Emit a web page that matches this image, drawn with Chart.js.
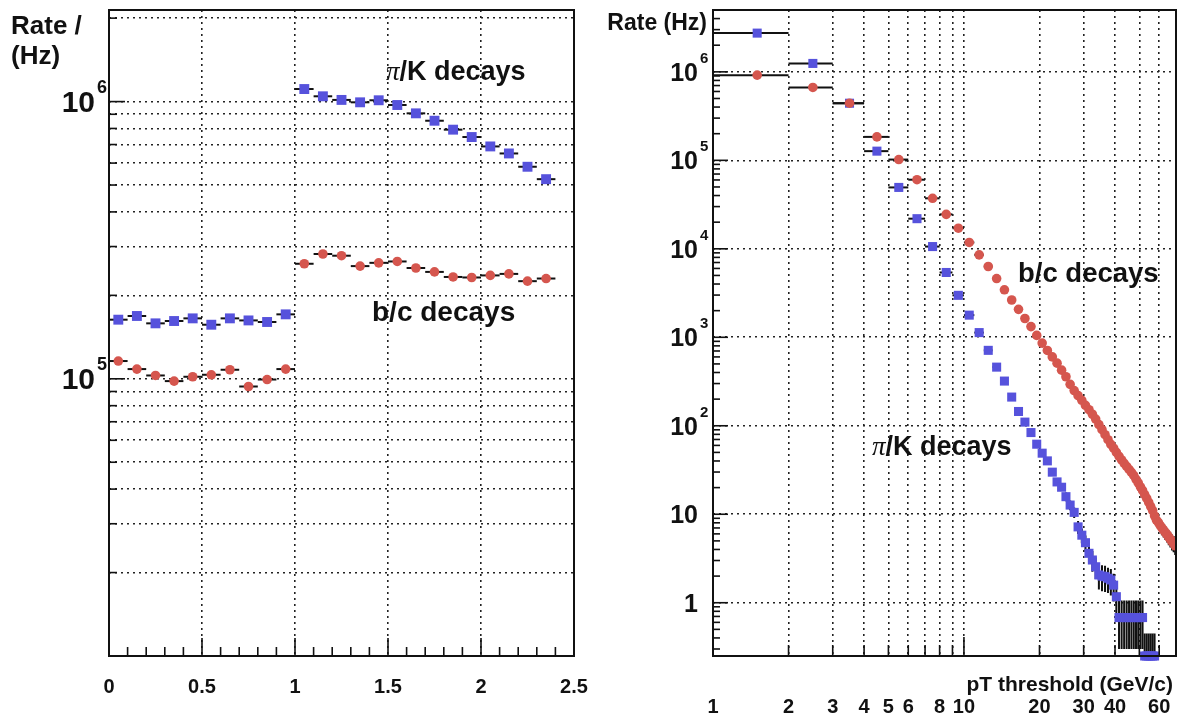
<!DOCTYPE html>
<html>
<head>
<meta charset="utf-8">
<title>Rate vs eta and pT threshold</title>
<script src="https://cdn.jsdelivr.net/npm/chart.js@4.4.1/dist/chart.umd.min.js"></script>
<style>
  html, body { margin: 0; padding: 0; background: #fff; }
  #wrap { position: relative; width: 1179px; height: 718px; overflow: hidden; }
  canvas { position: absolute; top: 0; }
  #etaChart { left: 0; }
  #ptChart { left: 590px; }
</style>
</head>
<body>
<div id="wrap">
  <canvas id="etaChart" width="590" height="718"></canvas>
  <canvas id="ptChart" width="589" height="718"></canvas>
</div>
<script>
/* ── Left panel: rate per 0.1 bin in eta ── */
const etaBins = [0.05, 0.15, 0.25, 0.35, 0.45, 0.55, 0.65, 0.75, 0.85, 0.95,
  1.05, 1.15, 1.25, 1.35, 1.45, 1.55, 1.65, 1.75, 1.85, 1.95, 2.05, 2.15, 2.25, 2.35];
const etaHalfWidth = 0.05;
const piKRateEta = [1.634e5, 1.685e5, 1.585e5, 1.616e5, 1.652e5, 1.567e5, 1.652e5, 1.624e5, 1.603e5, 1.708e5,
  1.11e6, 1.045e6, 1.014e6, 9.94e5, 1.011e6, 9.72e5, 9.07e5, 8.53e5, 7.92e5, 7.45e5, 6.89e5, 6.5e5, 5.82e5, 5.25e5];
const bcRateEta = [1.159e5, 1.084e5, 1.028e5, 9.81e4, 1.017e5, 1.034e5, 1.078e5, 9.38e4, 9.94e4, 1.084e5,
  2.60e5, 2.82e5, 2.78e5, 2.55e5, 2.62e5, 2.65e5, 2.51e5, 2.43e5, 2.33e5, 2.32e5, 2.36e5, 2.39e5, 2.25e5, 2.30e5];

const etaLabels = [0, 0.5, 1, 1.5, 2, 2.5];
const etaGridTicks = [0.5, 1, 1.5, 2];
const etaMinorTicks = [0.1, 0.2, 0.3, 0.4, 0.6, 0.7, 0.8, 0.9, 1.1, 1.2, 1.3, 1.4,
  1.6, 1.7, 1.8, 1.9, 2.1, 2.2, 2.3, 2.4];
const rateDecadesL = [1e5, 1e6];
const rateGridL = [2e4, 3e4, 4e4, 5e4, 6e4, 7e4, 8e4, 9e4, 1e5, 2e5, 3e5, 4e5, 5e5, 6e5, 7e5, 8e5, 9e5, 1e6, 2e6];

/* ── Right panel: rate above pT threshold (1 GeV/c bins) ── */
const ptBins = [1.5, 2.5, 3.5, 4.5, 5.5, 6.5, 7.5, 8.5, 9.5, 10.5,
  11.5, 12.5, 13.5, 14.5, 15.5, 16.5, 17.5, 18.5, 19.5, 20.5,
  21.5, 22.5, 23.5, 24.5, 25.5, 26.5, 27.5, 28.5, 29.5, 30.5,
  31.5, 32.5, 33.5, 34.5, 35.5, 36.5, 37.5, 38.5, 39.5, 40.5,
  41.5, 42.5, 43.5, 44.5, 45.5, 46.5, 47.5, 48.5, 49.5, 50.5,
  51.5, 52.5, 53.5, 54.5, 55.5, 56.5, 57.5, 58.5, 59.5, 60.5,
  61.5, 62.5, 63.5, 64.5, 65.5, 66.5, 67.5, 68.5, 69.5];
const ptHalfWidth = 0.5;
const piKRatePt = [2.74e6, 1.245e6, 4.42e5, 1.27e5, 4.94e4, 2.19e4, 1.06e4, 5.4e3, 2.98e3, 1.78e3,
  1.13e3, 712, 460, 320, 211, 145, 110, 83.8, 61.9, 49.0,
  40.1, 29.9, 23.2, 20.2, 15.8, 12.7, 10.5, 7.2, 5.8, 4.77,
  3.62, 3.04, 2.55, 2.06, 2.0, 1.97, 1.89, 1.81, 1.58, 1.17,
  0.68, 0.68, 0.68, 0.68, 0.68, 0.68, 0.68, 0.68, 0.68, 0.68,
  0.68, 0.25, 0.25, 0.25, 0.25, 0.25, 0.25, null, null, null,
  null, null, null, null, null, null, null, null, null];
const piKErrPt = [0, 0, 0, 0, 0, 0, 0, 0, 0, 0,
  0, 0, 0, 0, 0, 0, 0, 0, 0, 0,
  0, 0, 0, 0, 1.8, 1.6, 1.45, 1.2, 1.1, 1.0,
  0.85, 0.8, 0.7, 0.65, 0.65, 0.65, 0.6, 0.6, 0.55, 0.5,
  0.38, 0.38, 0.38, 0.38, 0.38, 0.38, 0.38, 0.38, 0.38, 0.38,
  0.38, 0.2, 0.2, 0.2, 0.2, 0.2, 0.2, 0, 0, 0,
  0, 0, 0, 0, 0, 0, 0, 0, 0];
const bcRatePt = [9.18e5, 6.66e5, 4.42e5, 1.84e5, 1.02e5, 6.04e4, 3.72e4, 2.45e4, 1.71e4, 1.18e4,
  8.55e3, 6.31e3, 4.61e3, 3.44e3, 2.64e3, 2.07e3, 1.63e3, 1.32e3, 1.05e3, 860,
  710, 600, 510, 425, 358, 294, 250, 219, 194, 170,
  152, 135, 119, 103, 90.4, 79.3, 69.6, 61.6, 55.8, 50.0,
  45.1, 41.1, 37.6, 34.7, 32.1, 29.7, 27.5, 24.8, 22.6, 20.4,
  18.6, 16.7, 15.1, 13.6, 12.2, 11.0, 9.6, 8.6, 8.1, 7.5,
  7.0, 6.6, 6.2, 5.9, 5.5, 5.2, 4.9, 4.7, 4.4];
const bcErrPt = [0, 0, 0, 0, 0, 0, 0, 0, 0, 0,
  0, 0, 0, 0, 0, 0, 0, 0, 0, 0,
  0, 0, 0, 0, 0, 0, 0, 0, 0, 0,
  0, 0, 0, 0, 0, 0, 0, 0, 0, 0,
  0, 0, 0, 0, 2.5, 2.4, 2.3, 2.2, 2.1, 2.0,
  1.9, 1.8, 1.7, 1.65, 1.55, 1.5, 1.4, 1.3, 1.3, 1.2,
  1.2, 1.15, 1.1, 1.1, 1.05, 1.0, 1.0, 0.97, 0.94];

const ptLabels = [1, 2, 3, 4, 5, 6, 8, 10, 20, 30, 40, 60];
const ptGridTicks = [2, 3, 4, 5, 6, 7, 8, 9, 10, 20, 30, 40, 50, 60];
const rateDecadesR = [1, 10, 1e2, 1e3, 1e4, 1e5, 1e6];
const minorMantissas = [2, 3, 4, 5, 6, 7, 8, 9];

const BLUE = '#5652dc';
const RED = '#d5564e';
const INK = '#111';
const FONT = '"Liberation Sans", Arial, sans-serif';

/* ── Helpers ── */
function points(xs, ys) {
  return xs.map((x, i) => ({ x, y: ys[i] })).filter(p => p.y != null);
}

function drawFrame(ctx, a) {
  ctx.strokeStyle = INK;
  ctx.lineWidth = 2;
  ctx.strokeRect(a.left, a.top, a.right - a.left, a.bottom - a.top);
}

function hTick(ctx, x0, y, len) {
  ctx.beginPath();
  ctx.moveTo(x0, y);
  ctx.lineTo(x0 + len, y);
  ctx.stroke();
}

function vTick(ctx, x, y0, len) {
  ctx.beginPath();
  ctx.moveTo(x, y0);
  ctx.lineTo(x, y0 - len);
  ctx.stroke();
}

function drawPow10(ctx, value, right, py, big, small, supDy) {
  const exp = String(Math.round(Math.log10(value)));
  ctx.textBaseline = 'middle';
  ctx.font = `bold ${big}px ${FONT}`;
  ctx.textAlign = 'right';
  ctx.fillText('10', right, py + 2);
  ctx.font = `bold ${small}px ${FONT}`;
  ctx.textAlign = 'left';
  ctx.fillText(exp, right + 2, py + supDy);
}

// "π/K decays" with an italic pi like ROOT's symbol font
function drawPiK(ctx, x, baseline, size) {
  ctx.textAlign = 'left';
  ctx.textBaseline = 'alphabetic';
  ctx.font = `italic ${size}px "Liberation Serif", serif`;
  ctx.fillText('π', x, baseline);
  const w = ctx.measureText('π').width;
  ctx.font = `bold ${size}px ${FONT}`;
  ctx.fillText('/K decays', x + w, baseline);
}

function errorBars(series) {
  return {
    id: 'errorBars',
    beforeDatasetsDraw(chart) {
      const { ctx, chartArea: a, scales: { x, y } } = chart;
      ctx.save();
      ctx.beginPath();
      ctx.rect(a.left, a.top, a.right - a.left, a.bottom - a.top);
      ctx.clip();
      ctx.strokeStyle = INK;
      ctx.lineWidth = 2;
      series.forEach(s => {
        s.xs.forEach((xv, i) => {
          const v = s.ys[i];
          if (v == null) return;
          const py = y.getPixelForValue(v);
          const px = x.getPixelForValue(xv);
          ctx.beginPath();
          ctx.moveTo(x.getPixelForValue(xv - s.halfWidth), py);
          ctx.lineTo(x.getPixelForValue(xv + s.halfWidth), py);
          const e = s.errs ? s.errs[i] : 0;
          if (e) {
            ctx.moveTo(px, y.getPixelForValue(v + e));
            ctx.lineTo(px, y.getPixelForValue(Math.max(v - e, 1e-3)));
          }
          ctx.stroke();
        });
      });
      ctx.restore();
    }
  };
}

function gridScale(type, min, max, tickValues) {
  return {
    type,
    min,
    max,
    afterBuildTicks: (scale) => { scale.ticks = tickValues.map(value => ({ value })); },
    ticks: { display: false, autoSkip: false },
    grid: { color: '#222', lineWidth: 1.6, drawTicks: false },
    border: { display: false, dash: [2, 4] }
  };
}

/* ── Left chart: eta ── */
const etaAxes = {
  id: 'etaAxes',
  afterDraw(chart) {
    const { ctx, chartArea: a, scales: { x, y } } = chart;
    ctx.save();
    drawFrame(ctx, a);
    ctx.lineWidth = 1.6;
    rateGridL.forEach(v => hTick(ctx, a.left, y.getPixelForValue(v), rateDecadesL.includes(v) ? 16 : 8));
    etaMinorTicks.forEach(v => vTick(ctx, x.getPixelForValue(v), a.bottom, 9));
    etaGridTicks.forEach(v => vTick(ctx, x.getPixelForValue(v), a.bottom, 18));

    ctx.fillStyle = INK;
    ctx.font = `bold 20px ${FONT}`;
    ctx.textAlign = 'center';
    ctx.textBaseline = 'middle';
    etaLabels.forEach(v => ctx.fillText(String(v), x.getPixelForValue(v), 687));
    rateDecadesL.forEach(v => drawPow10(ctx, v, 95, y.getPixelForValue(v), 30, 18, -14));

    ctx.font = `bold 26px ${FONT}`;
    ctx.textAlign = 'left';
    ctx.textBaseline = 'alphabetic';
    ctx.fillText('Rate /', 11, 34);
    ctx.fillText('(Hz)', 11, 64);

    drawPiK(ctx, 386, 80, 27);
    ctx.font = `bold 28px ${FONT}`;
    ctx.fillText('b/c decays', 372, 321);
    ctx.restore();
  }
};

new Chart(document.getElementById('etaChart'), {
  type: 'scatter',
  data: {
    datasets: [
      {
        label: 'π/K decays',
        data: points(etaBins, piKRateEta),
        pointStyle: 'rect',
        pointRadius: 7,
        backgroundColor: BLUE,
        borderColor: BLUE,
        borderWidth: 0,
        order: 2
      },
      {
        label: 'b/c decays',
        data: points(etaBins, bcRateEta),
        pointStyle: 'circle',
        pointRadius: 4.8,
        backgroundColor: RED,
        borderColor: RED,
        borderWidth: 0,
        order: 1
      }
    ]
  },
  options: {
    responsive: false,
    animation: false,
    devicePixelRatio: 1,
    layout: { autoPadding: false, padding: { left: 109, right: 16, top: 10, bottom: 62 } },
    plugins: { legend: { display: false }, tooltip: { enabled: false } },
    scales: {
      x: gridScale('linear', 0, 2.5, etaGridTicks),
      y: gridScale('logarithmic', 1e4, 2.14e6, rateGridL)
    }
  },
  plugins: [
    errorBars([
      { xs: etaBins, ys: piKRateEta, halfWidth: etaHalfWidth },
      { xs: etaBins, ys: bcRateEta, halfWidth: etaHalfWidth }
    ]),
    etaAxes
  ]
});

/* ── Right chart: pT threshold ── */
const ptAxes = {
  id: 'ptAxes',
  afterDraw(chart) {
    const { ctx, chartArea: a, scales: { x, y } } = chart;
    ctx.save();
    drawFrame(ctx, a);
    ctx.lineWidth = 1.6;
    [0.1, 1, 10, 1e2, 1e3, 1e4, 1e5, 1e6].forEach(d => {
      minorMantissas.forEach(m => {
        const v = m * d;
        if (v > 0.25 && v < 5e6) hTick(ctx, a.left, y.getPixelForValue(v), 7);
      });
    });
    rateDecadesR.forEach(v => hTick(ctx, a.left, y.getPixelForValue(v), 15));
    ptGridTicks.forEach(v => vTick(ctx, x.getPixelForValue(v), a.bottom, v === 10 ? 19 : 11));

    ctx.fillStyle = INK;
    ctx.font = `bold 20px ${FONT}`;
    ctx.textAlign = 'center';
    ctx.textBaseline = 'middle';
    ptLabels.forEach(v => ctx.fillText(String(v), x.getPixelForValue(v), 707));

    rateDecadesR.forEach(v => {
      const py = y.getPixelForValue(v);
      if (v < 100) {
        ctx.font = `bold 25px ${FONT}`;
        ctx.textAlign = 'right';
        ctx.textBaseline = 'middle';
        ctx.fillText(String(v), 108, py + 2);
      } else {
        drawPow10(ctx, v, 108, py, 25, 15, -13);
      }
    });

    ctx.font = `bold 23px ${FONT}`;
    ctx.textAlign = 'right';
    ctx.textBaseline = 'alphabetic';
    ctx.fillText('Rate (Hz)', 117, 30);

    ctx.font = `bold 21px ${FONT}`;
    ctx.fillText('pT threshold (GeV/c)', 583, 691);

    ctx.textAlign = 'left';
    ctx.font = `bold 27.5px ${FONT}`;
    ctx.fillText('b/c decays', 428, 282);
    drawPiK(ctx, 282, 455, 27);
    ctx.restore();
  }
};

new Chart(document.getElementById('ptChart'), {
  type: 'scatter',
  data: {
    datasets: [
      {
        label: 'π/K decays',
        data: points(ptBins, piKRatePt),
        pointStyle: 'rect',
        pointRadius: 6.4,
        backgroundColor: BLUE,
        borderColor: BLUE,
        borderWidth: 0,
        clip: false,
        order: 2
      },
      {
        label: 'b/c decays',
        data: points(ptBins, bcRatePt),
        pointStyle: 'circle',
        pointRadius: 4.8,
        backgroundColor: RED,
        borderColor: RED,
        borderWidth: 0,
        order: 1
      }
    ]
  },
  options: {
    responsive: false,
    animation: false,
    devicePixelRatio: 1,
    layout: { autoPadding: false, padding: { left: 123, right: 3, top: 10, bottom: 62 } },
    plugins: { legend: { display: false }, tooltip: { enabled: false } },
    scales: {
      x: gridScale('logarithmic', 1, 70, ptGridTicks),
      y: gridScale('logarithmic', 0.25, 5e6, rateDecadesR)
    }
  },
  plugins: [
    errorBars([
      { xs: ptBins, ys: piKRatePt, errs: piKErrPt, halfWidth: ptHalfWidth },
      { xs: ptBins, ys: bcRatePt, errs: bcErrPt, halfWidth: ptHalfWidth }
    ]),
    ptAxes
  ]
});
</script>
</body>
</html>
